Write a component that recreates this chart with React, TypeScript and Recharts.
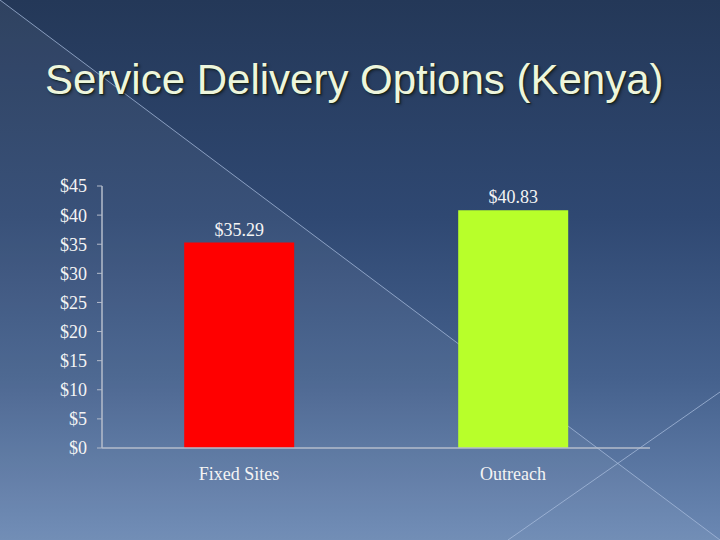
import { BarChart, Bar, XAxis, YAxis, Cell, LabelList } from 'recharts';

const categories = ['Fixed Sites', 'Outreach'];
const costs = [35.29, 40.83];
const yTicks = [0, 5, 10, 15, 20, 25, 30, 35, 40, 45];

const BAR_COLORS = ['#ff0000', '#b8ff2a'];
const SERIF = '"Liberation Serif", "DejaVu Serif", serif';

const data = categories.map((name, i) => ({ name, cost: costs[i] }));

function Backdrop() {
  return (
    <svg width={720} height={540} style={{ position: 'absolute', left: 0, top: 0 }}>
      <defs>
        <linearGradient id="bg" x1="0" y1="0" x2="0" y2="1">
          <stop offset="0%" stopColor="#243858" />
          <stop offset="40%" stopColor="#2f4872" />
          <stop offset="70%" stopColor="#45618d" />
          <stop offset="100%" stopColor="#6b88b3" />
        </linearGradient>
      </defs>
      <rect width={720} height={540} fill="url(#bg)" />
      <polygon points="0,0 720,540 0,540" fill="#ffffff" fillOpacity={0.05} />
      <line x1={0} y1={0} x2={720} y2={540} stroke="#a8bcdc" strokeOpacity={0.75} strokeWidth={1} />
      <line x1={508} y1={540} x2={720} y2={392} stroke="#a8bcdc" strokeOpacity={0.75} strokeWidth={1} />
    </svg>
  );
}

export default function App() {
  return (
    <div style={{ position: 'relative', width: 720, height: 540, overflow: 'hidden' }}>
      <style>{'body{margin:0}'}</style>
      <Backdrop />
      <div
        style={{
          position: 'absolute',
          left: 45,
          top: 59,
          fontFamily: '"Liberation Sans", Arial, sans-serif',
          fontSize: 42,
          lineHeight: 1,
          color: '#eef6dc',
          whiteSpace: 'nowrap',
          textShadow: '1px 1px 1px #16241a, 2px 2px 3px rgba(0,0,0,0.35)',
        }}
      >
        Service Delivery Options (Kenya)
      </div>
      <div style={{ position: 'absolute', left: 0, top: 0 }}>
        <BarChart
          width={720}
          height={540}
          data={data}
          margin={{ top: 186, right: 70, bottom: 62, left: 0 }}
          barCategoryGap="30%"
        >
          <XAxis
            dataKey="name"
            height={30}
            tickLine={false}
            tickSize={0}
            tickMargin={19}
            axisLine={{ stroke: '#b4bccb', strokeWidth: 1.5 }}
            tick={{ fill: '#f4f4f4', fontSize: 18, fontFamily: SERIF }}
          />
          <YAxis
            width={102}
            domain={[0, 45]}
            ticks={yTicks}
            interval={0}
            tickSize={5}
            tickMargin={10}
            tickFormatter={(v: number) => `$${v}`}
            axisLine={{ stroke: '#b4bccb', strokeWidth: 1.5 }}
            tickLine={{ stroke: '#b4bccb' }}
            tick={{ fill: '#f4f4f4', fontSize: 18, fontFamily: SERIF }}
          />
          <Bar dataKey="cost" isAnimationActive={false}>
            {data.map((d, i) => (
              <Cell key={d.name} fill={BAR_COLORS[i]} />
            ))}
            <LabelList
              dataKey="cost"
              position="top"
              offset={7}
              formatter={(v: number) => `$${v.toFixed(2)}`}
              style={{ fill: '#f4f4f4', fontSize: 18, fontFamily: SERIF }}
            />
          </Bar>
        </BarChart>
      </div>
    </div>
  );
}
